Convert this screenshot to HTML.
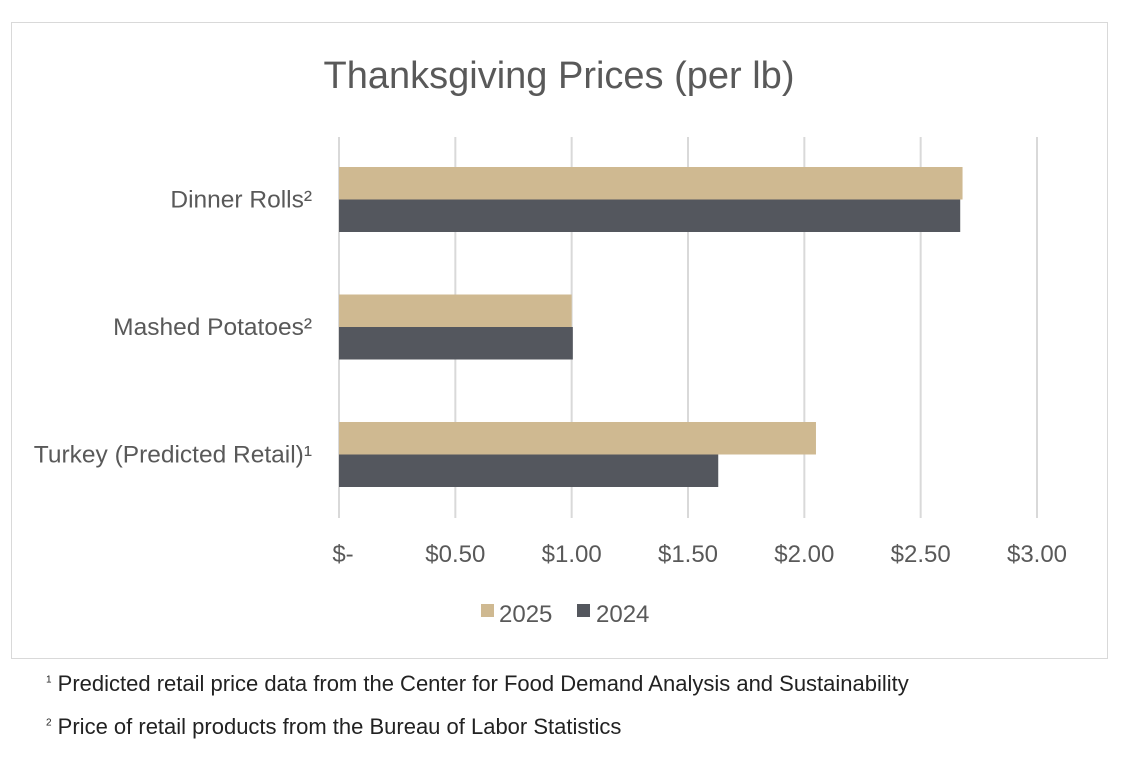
<!DOCTYPE html>
<html><head><meta charset="utf-8"><style>
body{margin:0;background:#fff;width:1143px;height:760px;overflow:hidden;font-family:"Liberation Sans",sans-serif}
svg{position:absolute;left:0;top:0}
.note{position:absolute;left:46px;font-size:22px;color:#222;white-space:nowrap}
</style></head><body>
<svg width="1143" height="760">
<rect x="11.5" y="22.5" width="1096" height="636" fill="#fff" stroke="#d9d9d9"/>
<text x="559" y="88" text-anchor="middle" font-size="38" fill="#595959">Thanksgiving Prices (per lb)</text>
<g id="grid"></g><g id="bars"></g><g id="cats"></g><g id="ticks"></g>
<g>
<rect x="481" y="604" width="13" height="13" fill="#cfb991"/>
<text x="499" y="622" font-size="24" fill="#595959">2025</text>
<rect x="577" y="604" width="13" height="13" fill="#54575e"/>
<text x="596" y="622" font-size="24" fill="#595959">2024</text>
</g>
</svg>
<div class="note" style="top:671px"><sup style="font-size:10px">1</sup> Predicted retail price data from the Center for Food Demand Analysis and Sustainability</div>
<div class="note" style="top:714px"><sup style="font-size:10px">2</sup> Price of retail products from the Bureau of Labor Statistics</div>
<script>
const categories=["Dinner Rolls²","Mashed Potatoes²","Turkey (Predicted Retail)¹"];
const values2025=[2.68,1.0,2.05];
const values2024=[2.67,1.005,1.63];
const tickValues=[0,0.5,1,1.5,2,2.5,3];
const tickLabels=["$-","$0.50","$1.00","$1.50","$2.00","$2.50","$3.00"];
const NS="http://www.w3.org/2000/svg";
const x=v=>339+v*(1037-339)/3;
const catY=i=>199.5+i*127.5;
function mk(t,a,p){const e=document.createElementNS(NS,t);for(const k in a)e.setAttribute(k,a[k]);document.getElementById(p).appendChild(e);return e;}
tickValues.forEach((v,i)=>{
 const l=mk('line',{x1:x(v),x2:x(v),y1:137,y2:518,stroke:'#d9d9d9','stroke-width':2},'grid');
 
 
 const t=mk('text',{x:x(v)+(i==0?4:0),y:562,'text-anchor':'middle','font-size':24,fill:'#595959'},'ticks');
 t.textContent=tickLabels[i];
 
 
});
categories.forEach((c,i)=>{
 const cy=catY(i);
 const a=mk('rect',{x:x(0),y:cy-32.5,width:x(values2025[i])-x(0),height:32.5,fill:'#cfb991'},'bars');
 
 
 const b=mk('rect',{x:x(0),y:cy,width:x(values2024[i])-x(0),height:32.5,fill:'#54575e'},'bars');
 
 
 const t=mk('text',{x:312,y:cy+8,'text-anchor':'end','font-size':24.5,fill:'#595959'},'cats');
 t.textContent=c;
 
 
});
</script>
</body></html>
